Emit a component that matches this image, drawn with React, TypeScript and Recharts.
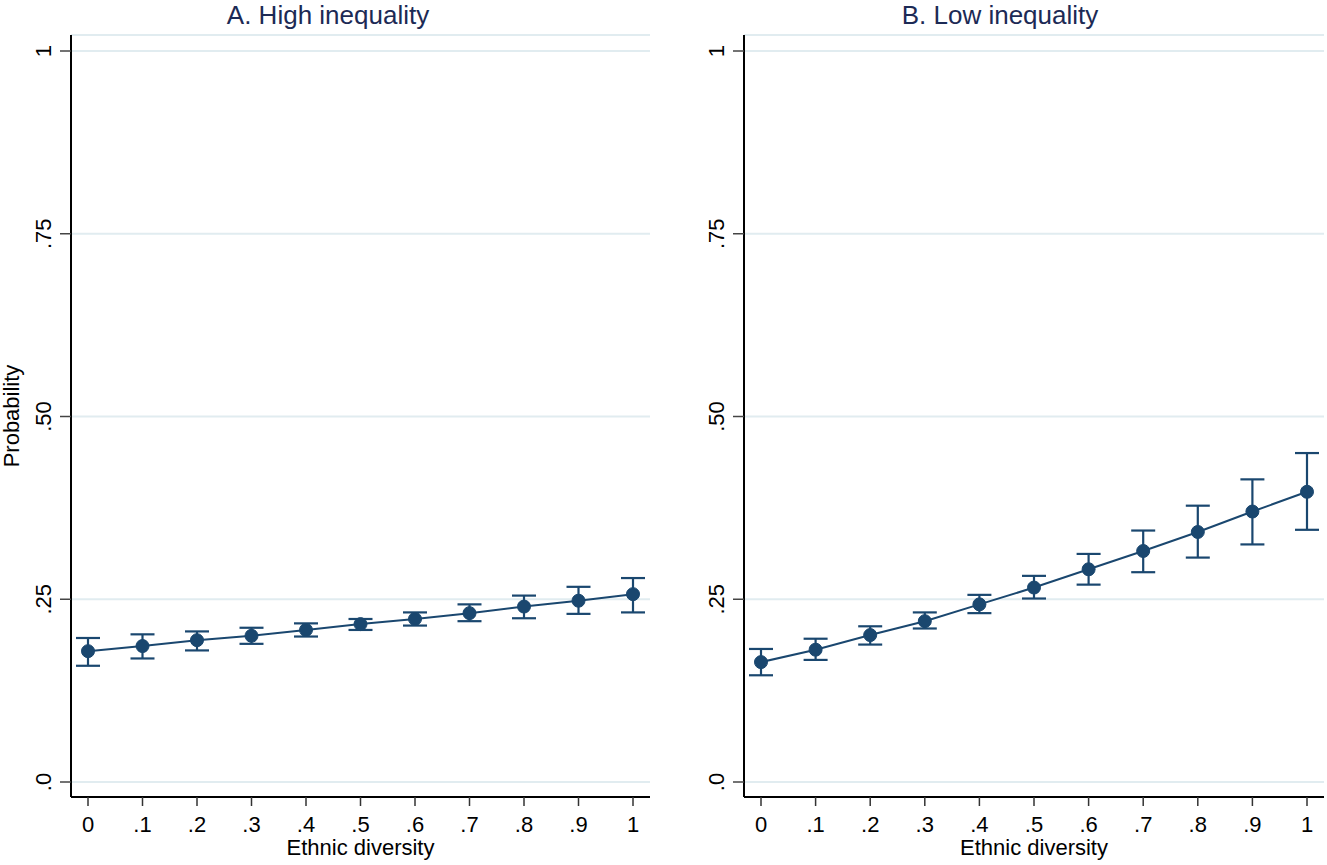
import React from "react";
import {
  CartesianGrid,
  ErrorBar,
  Line,
  LineChart,
  XAxis,
  YAxis,
} from "recharts";

const NAVY = "#1a476f";
const TITLE_COLOR = "#1c2a55";
const GRID = "#e1ecf0";

// ethnic diversity values on the x axis
const diversity = [0, 0.1, 0.2, 0.3, 0.4, 0.5, 0.6, 0.7, 0.8, 0.9, 1];

// panel A: high inequality
const highEst = [0.179, 0.186, 0.194, 0.2, 0.208, 0.216, 0.223, 0.231, 0.24, 0.248, 0.257];
const highLo = [0.159, 0.169, 0.18, 0.189, 0.199, 0.208, 0.214, 0.22, 0.224, 0.23, 0.232];
const highHi = [0.197, 0.202, 0.206, 0.211, 0.217, 0.223, 0.232, 0.243, 0.255, 0.267, 0.279];

// panel B: low inequality
const lowEst = [0.164, 0.181, 0.201, 0.22, 0.243, 0.266, 0.291, 0.316, 0.342, 0.37, 0.397];
const lowLo = [0.146, 0.167, 0.188, 0.21, 0.231, 0.251, 0.27, 0.287, 0.307, 0.325, 0.345];
const lowHi = [0.182, 0.196, 0.213, 0.232, 0.256, 0.282, 0.312, 0.344, 0.378, 0.414, 0.45];

const yTicks = [0, 0.25, 0.5, 0.75, 1];
const yTickLabels = [".0", ".25", ".50", ".75", "1"];
const xTickLabels = ["0", ".1", ".2", ".3", ".4", ".5", ".6", ".7", ".8", ".9", "1"];

const build = (est: number[], lo: number[], hi: number[]) =>
  diversity.map((x, i) => ({
    x,
    est: est[i],
    err: [est[i] - lo[i], hi[i] - est[i]],
  }));

const fmtX = (v: number) => {
  const i = diversity.findIndex((d) => Math.abs(d - v) < 1e-6);
  return i >= 0 ? xTickLabels[i] : String(v);
};

const YTick = (props: any) => {
  const { x, y, payload } = props;
  const i = yTicks.findIndex((t) => Math.abs(t - payload.value) < 1e-6);
  return (
    <text
      transform={`translate(${x}, ${y}) rotate(-90)`}
      textAnchor="middle"
      fontSize={22}
      fill="#000"
    >
      {i >= 0 ? yTickLabels[i] : payload.value}
    </text>
  );
};

const YLabel = (props: any) => {
  const vb = props.viewBox || {};
  const cy = vb.height ? vb.y + vb.height / 2 : 416;
  return (
    <text
      transform={`translate(19, ${cy}) rotate(-90)`}
      textAnchor="middle"
      fontSize={22}
      fill="#000"
    >
      Probability
    </text>
  );
};

const Panel = ({ data, width, marginRight, showYLabel }: any) => (
  <LineChart
    width={width}
    height={865}
    data={data}
    margin={{ top: 35, right: marginRight, bottom: 0, left: 0 }}
  >
    <CartesianGrid vertical={false} stroke={GRID} strokeWidth={2} />
    <XAxis
      dataKey="x"
      type="number"
      domain={[0, 1]}
      ticks={diversity}
      tickFormatter={fmtX}
      padding={{ left: 17, right: 17 }}
      height={68}
      tickSize={9}
      tickMargin={10}
      stroke="#000"
      strokeWidth={2}
      tick={{ fontSize: 22, fill: "#000" }}
      tickLine={{ stroke: "#333", strokeWidth: 1.5 }}
      label={{ value: "Ethnic diversity", position: "insideBottom", offset: 10, fontSize: 22, fill: "#000" }}
    />
    <YAxis
      type="number"
      domain={[0, 1]}
      ticks={yTicks}
      width={71}
      padding={{ top: 16, bottom: 15 }}
      tickSize={11}
      tickMargin={9}
      stroke="#000"
      strokeWidth={2}
      tick={<YTick />}
      tickLine={{ stroke: "#444", strokeWidth: 1.5 }}
      label={showYLabel ? <YLabel /> : undefined}
    />
    <Line
      dataKey="est"
      type="linear"
      stroke={NAVY}
      strokeWidth={2}
      dot={{ r: 6.5, fill: NAVY, stroke: NAVY, strokeWidth: 1 }}
      isAnimationActive={false}
    >
      <ErrorBar dataKey="err" direction="y" width={12} stroke={NAVY} strokeWidth={2.2} />
    </Line>
  </LineChart>
);

export default function App() {
  const highData = build(highEst, highLo, highHi);
  const lowData = build(lowEst, lowLo, lowHi);
  return (
    <div
      style={{
        position: "absolute",
        left: 0,
        top: 0,
        width: 1327,
        height: 865,
        background: "#fff",
        fontFamily: '"Liberation Sans", Arial, sans-serif',
      }}
    >
      <div style={{ position: "absolute", left: 0, top: 0 }}>
        <Panel data={highData} width={663} marginRight={13} showYLabel />
      </div>
      <div style={{ position: "absolute", left: 673, top: 0 }}>
        <Panel data={lowData} width={654} marginRight={3} showYLabel={false} />
      </div>
      <svg
        width={1327}
        height={40}
        style={{ position: "absolute", left: 0, top: 0, pointerEvents: "none" }}
      >
        <text x={328} y={24} textAnchor="middle" fontSize={26} fill={TITLE_COLOR}>
          A. High inequality
        </text>
        <text x={1000} y={24} textAnchor="middle" fontSize={26} fill={TITLE_COLOR}>
          B. Low inequality
        </text>
      </svg>
    </div>
  );
}
